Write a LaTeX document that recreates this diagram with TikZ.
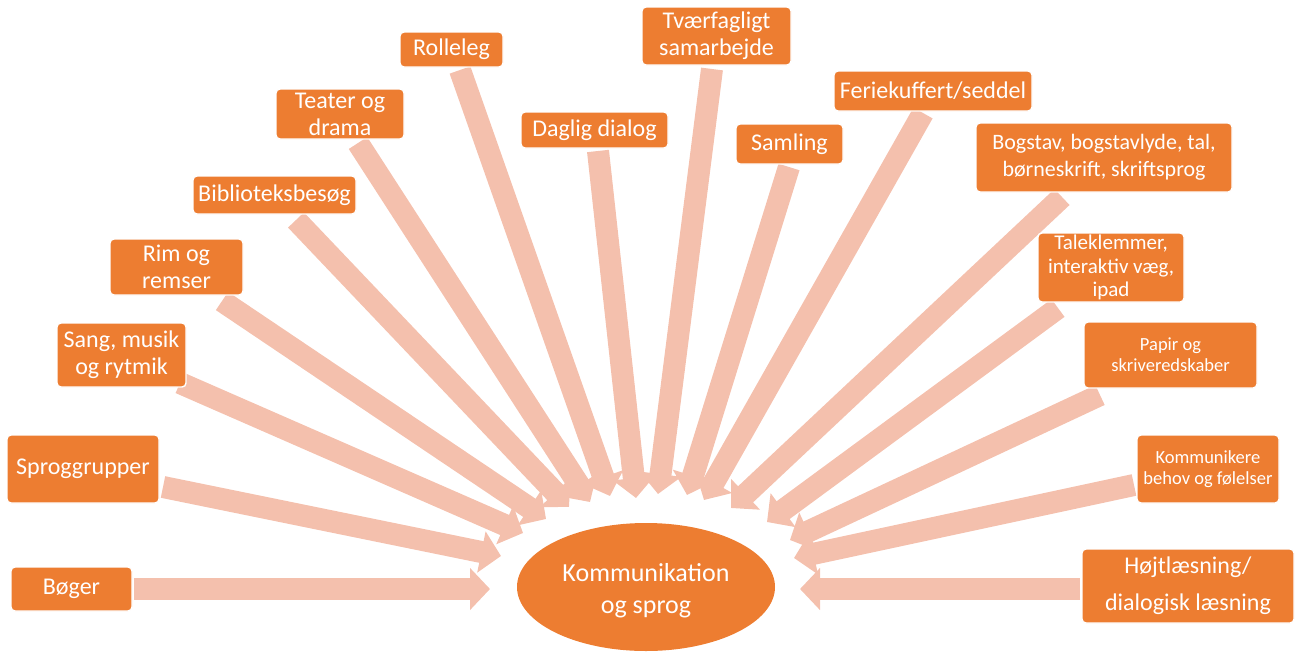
\documentclass[tikz,border=0pt]{standalone}
\usepackage{fontspec}
\setmainfont{Carlito}
\usetikzlibrary{arrows.meta,shapes.geometric}
\definecolor{boxorange}{HTML}{ED7D31}
\definecolor{arrowcol}{RGB}{244,192,173}
\tikzset{
  topic/.style={rectangle, rounded corners=2pt, fill=boxorange, draw=white, line width=0.7pt,
    text=white, align=center, inner sep=0pt, font=\fontsize{12pt}{13.5pt}\selectfont},
  smalltopic/.style={topic, font=\fontsize{9.25pt}{10.5pt}\selectfont},
  hub/.style={ellipse, fill=boxorange, inner sep=0pt},
  hubtext/.style={text=white, align=center, inner sep=0pt, font=\fontsize{13pt}{16pt}\selectfont},
  feed/.style={arrowcol, line width=11pt, line cap=butt,
    -{Triangle[width=20.5pt,length=10pt]}}
}
\begin{document}
\begin{tikzpicture}[x=0.5pt,y=-0.5pt]
\useasboundingbox (0,0) rectangle (1296,653);
% arrow ends
\coordinate (s1) at (134,589);  \coordinate (t1) at (490,589);
\coordinate (s2) at (163,487);  \coordinate (t2) at (501,556);
\coordinate (s3) at (180,383);  \coordinate (t3) at (523,533);
\coordinate (s4) at (222,301);  \coordinate (t4) at (546,519);
\coordinate (s5) at (296,220);  \coordinate (t5) at (569,507);
\coordinate (s6) at (358,143);  \coordinate (t6) at (590,502);
\coordinate (s7) at (460,70);   \coordinate (t7) at (610,496);
\coordinate (s8) at (598,151);  \coordinate (t8) at (636,498);
\coordinate (s9) at (712,69);   \coordinate (t9) at (658,494);
\coordinate (s10) at (789,167); \coordinate (t10) at (687,495);
\coordinate (s11) at (923,113); \coordinate (t11) at (704,500);
\coordinate (s12) at (1062,197);\coordinate (t12) at (731,508);
\coordinate (s13) at (1058,308);\coordinate (t13) at (767,522);
\coordinate (s14) at (1100,395);\coordinate (t14) at (790,540);
\coordinate (s15) at (1134,485);\coordinate (t15) at (794,558);
\coordinate (s16) at (1080,589);\coordinate (t16) at (800,589);
\foreach \i in {1,...,16} { \draw[feed] (s\i) -- (t\i); }
% hub
\node[hub, minimum width=129pt, minimum height=64pt] (hub) at (646,587) {};
\node[hubtext] (hubt) at ([yshift=-2pt]hub.center) {Kommunikation\\og sprog};
% topics
\node[topic, minimum width=60.5pt, minimum height=22pt] (b1) at (71.5,589) {\raisebox{-1pt}{Bøger}};
\node[topic, minimum width=76pt, minimum height=34pt] (b2) at (83,469) {\raisebox{-1.5pt}{Sproggrupper}};
\node[topic, minimum width=64.5pt, minimum height=32pt] (b3) at (121.5,355) {Sang, musik\\og rytmik};
\node[topic, minimum width=66.5pt, minimum height=28pt] (b4) at (176.5,267) {Rim og\\remser};
\node[topic, minimum width=81.5pt, minimum height=19pt] (b5) at (274.5,195) {\raisebox{-1pt}{Biblioteksbesøg}};
\node[topic, minimum width=64pt, minimum height=25pt] (b6) at (340,114) {Teater og\\drama};
\node[topic, minimum width=51.5pt, minimum height=17.5pt] (b7) at (451.5,49.5) {\raisebox{-1pt}{Rolleleg}};
\node[topic, minimum width=73.5pt, minimum height=18pt] (b8) at (594.5,130) {\raisebox{-1pt}{Daglig dialog}};
\node[topic, minimum width=74.5pt, minimum height=29pt] (b9) at (716.5,36) {Tværfagligt\\samarbejde};
\node[topic, minimum width=53.5pt, minimum height=20pt] (b10) at (789.5,144) {\raisebox{-1pt}{Samling}};
\node[topic, minimum width=99pt, minimum height=20pt] (b11) at (933,91) {\raisebox{-1pt}{Feriekuffert/seddel}};
\node[topic, minimum width=128pt, minimum height=34.5pt, font=\fontsize{11pt}{13.5pt}\selectfont] (b12) at (1104,157.5) {Bogstav, bogstavlyde, tal,\\børneskrift, skriftsprog};
\node[topic, minimum width=73pt, minimum height=34.5pt, font=\fontsize{10.5pt}{11.75pt}\selectfont] (b13) at (1111,267.5) {Taleklemmer,\\interaktiv væg,\\ipad};
\node[smalltopic, minimum width=86.5pt, minimum height=33pt] (b14) at (1170.5,355) {Papir og\\skriveredskaber};
\node[smalltopic, minimum width=71pt, minimum height=34pt] (b15) at (1208,469) {Kommunikere\\behov og følelser};
\node[topic, minimum width=106pt, minimum height=37pt, font=\fontsize{12pt}{18.5pt}\selectfont] (b16) at (1188,586) {Højtlæsning/\\dialogisk læsning};
\end{tikzpicture}
\end{document}
